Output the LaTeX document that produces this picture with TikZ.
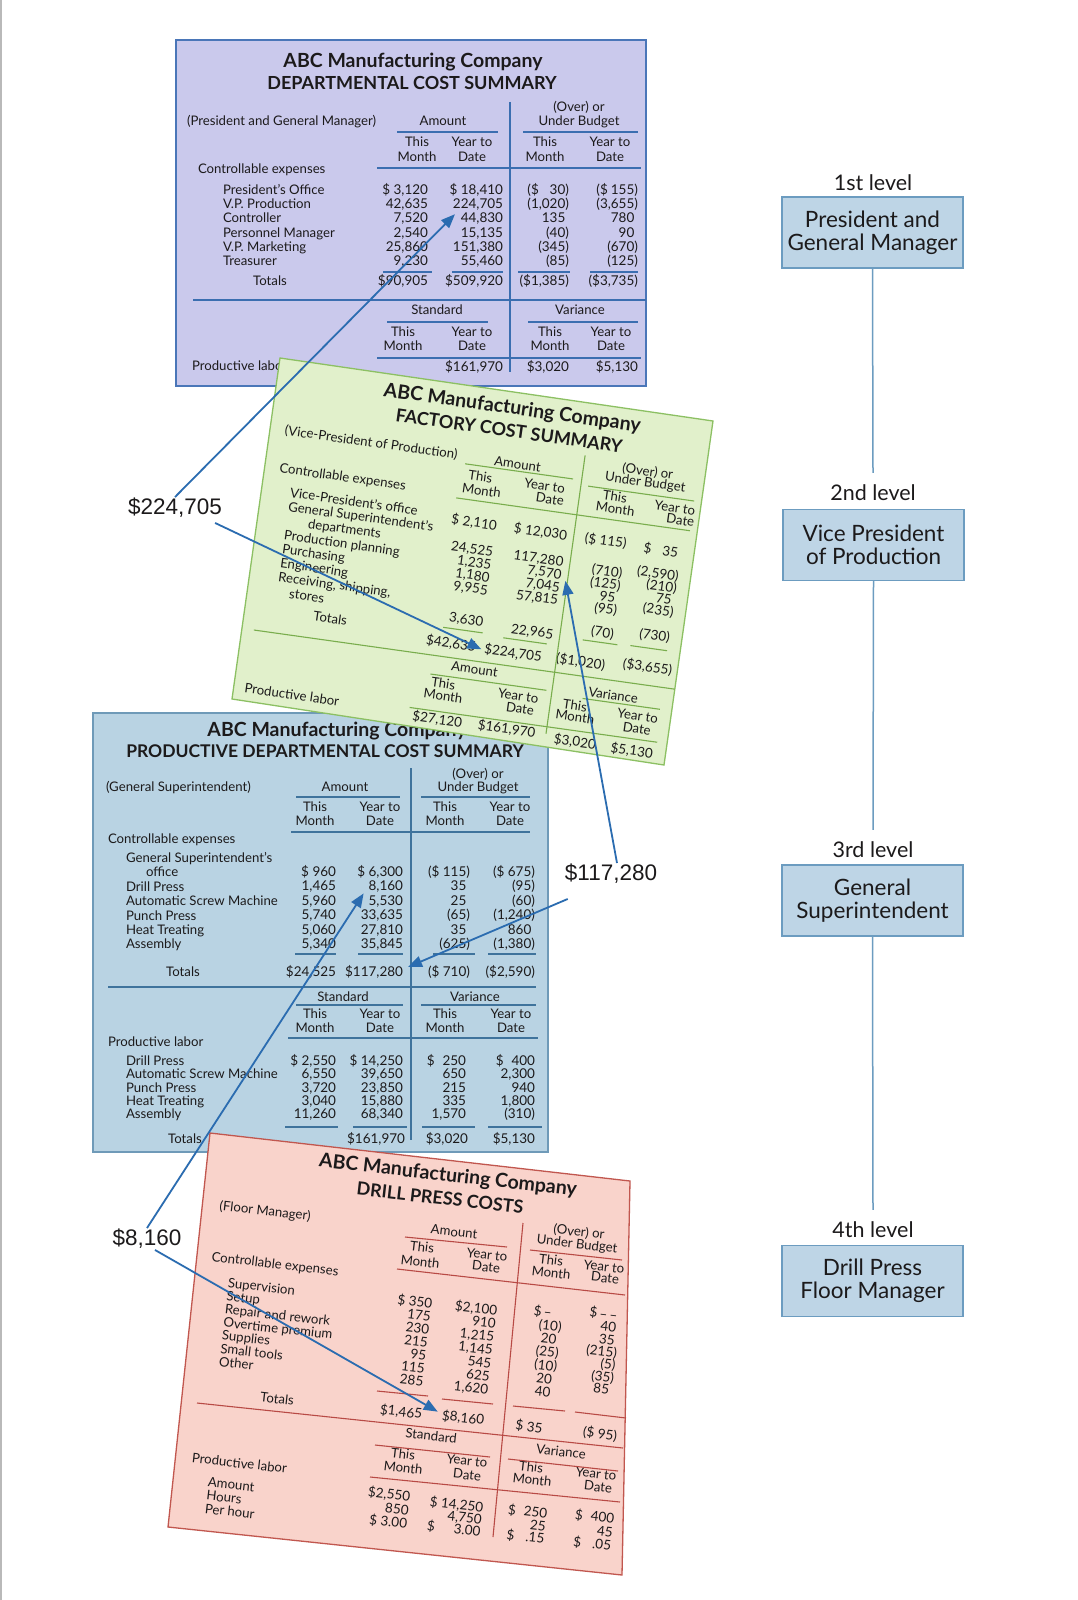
\documentclass[tikz,border=0pt]{standalone}
\usepackage{fontspec}
\setmainfont{Lato}
\newfontfamily\lblfont{Liberation Sans}
\usetikzlibrary{arrows.meta,calc}

\definecolor{ink}{HTML}{1C1A1B}
\definecolor{pfill}{HTML}{CAC9EC}
\definecolor{pedge}{HTML}{4A76B8}
\definecolor{prule}{HTML}{3B6EB0}
\definecolor{gfill}{HTML}{E1F0CB}
\definecolor{gedge}{HTML}{8CC063}
\definecolor{grule}{HTML}{79AD4D}
\definecolor{bfill}{HTML}{B9D3E3}
\definecolor{bedge}{HTML}{6F9AB8}
\definecolor{brule}{HTML}{3F739C}
\definecolor{kfill}{HTML}{F9D3CB}
\definecolor{kedge}{HTML}{C1574F}
\definecolor{krule}{HTML}{B84A45}
\definecolor{arrowc}{HTML}{2B6CB0}
\definecolor{lvfill}{HTML}{BED5E6}
\definecolor{lvedge}{HTML}{6C9CC0}

\newcommand\fs[1]{\fontsize{#1}{#1}\selectfont}
\newcommand\ph[1]{\hphantom{#1}}

\tikzset{
 hd/.style={inner sep=0pt, outer sep=0pt, text=ink, transform shape, font=\fs{13.2}, text height=9.5pt, text depth=2.5pt},
 num/.style={hd, font=\fs{13.5}},
 ttl/.style={inner sep=0pt, text=ink, transform shape, font=\bfseries\fs{19.5}},
 ttlb/.style={inner sep=0pt, text=ink, transform shape, font=\bfseries\fs{18}},
 conn/.style={draw=arrowc, line width=1.8pt, -{Triangle[length=14pt,width=11pt]}},
 lbl/.style={inner sep=1pt, text=ink, font=\lblfont\fs{22.5}},
 lvl/.style={draw=lvedge, fill=lvfill, line width=1.3pt, minimum width=181pt, minimum height=71pt, align=center, inner sep=0pt, text=ink, font=\fontsize{22.5}{23}\selectfont},
 lvtxt/.style={inner sep=0pt, text=ink, font=\fs{21.5}},
 lvline/.style={draw=lvedge, line width=1.5pt},
}

\newcommand\tx[5][]{\node[hd,#1] (#2) at (#3,#4) {#5};}
\newcommand\colv[7][num,anchor=east]{%
  \begin{scope}[shift={(#3,#4)},rotate=#5]
  \foreach \v [count=\i] in {#7}{\node[#1] (#2\i) at (0,{(\i-1)*(#6)}) {\v};}
  \end{scope}}

\begin{document}
\begin{tikzpicture}[x=1pt,y=-1pt]
\useasboundingbox (0,0) rectangle (1077,1600);
\fill[white] (0,0) rectangle (1077,1600);
\draw[gray!55, line width=1.5pt] (1,0) -- (1,1600);

% ================= PURPLE PANEL =================
\path[fill=pfill, draw=pedge, line width=1.5pt] (176,40) rectangle (646,386);
\node[ttl] (pt1) at (413,62) {ABC Manufacturing Company};
\node[ttlb] (pt2) at (412,83) {DEPARTMENTAL COST SUMMARY};
\tx{pov}{579}{108}{(Over) or}
\tx[anchor=west]{ppgm}{187}{122}{(President and General Manager)}
\tx{pam}{443}{122}{Amount}
\tx{pub}{579}{122}{Under Budget}
\tx{pth1}{417}{143}{This}\tx{pmo1}{417}{158}{Month}
\tx{pyt1}{472}{143}{Year to}\tx{pda1}{472}{158}{Date}
\tx{pth2}{545}{143}{This}\tx{pmo2}{545}{158}{Month}
\tx{pyt2}{610}{143}{Year to}\tx{pda2}{610}{158}{Date}
\tx[anchor=west]{pce}{198}{170}{Controllable expenses}
\colv[hd,anchor=west]{pL}{223}{191}{0}{14.2}{{President's Office},{V.P. Production},{Controller},{Personnel Manager},{V.P. Marketing},{Treasurer}}
\colv{pA}{428}{191}{0}{14.2}{{\$ 3,120},{42,635},{7,520},{2,540},{25,860},{9,230}}
\colv{pB}{503}{191}{0}{14.2}{{\$ 18,410},{224,705},{44,830},{15,135},{151,380},{55,460}}
\colv{pC}{569}{191}{0}{14.2}{{(\$\ph{,0}30)},{(1,020)},{135\ph{)}},{(40)},{(345)},{(85)}}
\colv{pD}{638}{191}{0}{14.2}{{(\$\ph{,}155)},{(3,655)},{780\ph{)}},{90\ph{)}},{(670)},{(125)}}
\tx{ptl}{270}{282}{Totals}
\tx[num,anchor=east]{pT1}{428}{282}{\$90,905}
\tx[num,anchor=east]{pT2}{503}{282}{\$509,920}
\tx[num,anchor=east]{pT3}{569}{282}{(\$1,385)}
\tx[num,anchor=east]{pT4}{638}{282}{(\$3,735)}
\tx{pstd}{437}{311}{Standard}
\tx{pvar}{580}{311}{Variance}
\tx{pth3}{403}{333}{This}\tx{pmo3}{403}{347}{Month}
\tx{pyt3}{472}{333}{Year to}\tx{pda3}{472}{347}{Date}
\tx{pth4}{550}{333}{This}\tx{pmo4}{550}{347}{Month}
\tx{pyt4}{611}{333}{Year to}\tx{pda4}{611}{347}{Date}
\tx[anchor=west]{ppl}{192}{367}{Productive labor}
\tx[num,anchor=east]{pP2}{503}{368}{\$161,970}
\tx[num,anchor=east]{pP3}{569}{368}{\$3,020}
\tx[num,anchor=east]{pP4}{638}{368}{\$5,130}
\begin{scope}[draw=prule, line width=1.1pt]
\draw (397,132) -- (498,132); \draw (523,132) -- (638,132);
\draw (377,168) -- (641,168);
\draw (510,102) -- (510,372);
\draw (383,272) -- (432,272); \draw (452,272) -- (503,272);
\draw (518,272) -- (570,272); \draw (590,272) -- (638,272);
\draw (193,300) -- (646,300);
\draw (387,322) -- (488,322); \draw (528,322) -- (638,322);
\draw (377,358) -- (641,358);
\end{scope}

% ================= BLUE PANEL =================
\path[fill=bfill, draw=bedge, line width=1.5pt] (93,713) rectangle (548,1152);
\node[ttl] (bt1) at (337,731) {ABC Manufacturing Company};
\node[ttlb, font=\bfseries\fs{17.5}] (bt2) at (325,751) {PRODUCTIVE DEPARTMENTAL COST SUMMARY};
\tx{bov}{478}{775}{(Over) or}
\tx[anchor=west]{bgs}{106}{788}{(General Superintendent)}
\tx{bam}{345}{788}{Amount}
\tx{bub}{478}{788}{Under Budget}
\tx{bth1}{315}{808}{This}\tx{bmo1}{315}{822}{Month}
\tx{byt1}{380}{808}{Year to}\tx{bda1}{380}{822}{Date}
\tx{bth2}{445}{808}{This}\tx{bmo2}{445}{822}{Month}
\tx{byt2}{510}{808}{Year to}\tx{bda2}{510}{822}{Date}
\tx[anchor=west]{bce}{108}{840}{Controllable expenses}
\tx[anchor=west]{bgso}{126}{859}{General Superintendent's}
\tx[anchor=west]{boff}{146}{873}{office}
\colv[hd,anchor=west]{bL}{126}{888}{0}{14.3}{{Drill Press},{Automatic Screw Machine},{Punch Press},{Heat Treating},{Assembly}}
\colv{bA}{336}{873}{0}{14.4}{{\$ 960},{1,465},{5,960},{5,740},{5,060},{5,340}}
\colv{bB}{403}{873}{0}{14.4}{{\$ 6,300},{8,160},{5,530},{33,635},{27,810},{35,845}}
\colv{bC}{470}{873}{0}{14.4}{{(\$ 115)},{35\ph{)}},{25\ph{)}},{(65)},{35\ph{)}},{(625)}}
\colv{bD}{535}{873}{0}{14.4}{{(\$ 675)},{(95)},{(60)},{(1,240)},{860\ph{)}},{(1,380)}}
\tx{btl}{183}{973}{Totals}
\tx[num,anchor=east]{bT1}{336}{973}{\$24,525}
\tx[num,anchor=east]{bT2}{403}{973}{\$117,280}
\tx[num,anchor=east]{bT3}{470}{973}{(\$ 710)}
\tx[num,anchor=east]{bT4}{535}{973}{(\$2,590)}
\tx{bstd}{343}{998}{Standard}
\tx{bvar}{475}{998}{Variance}
\tx{bth3}{315}{1015}{This}\tx{bmo3}{315}{1029}{Month}
\tx{byt3}{380}{1015}{Year to}\tx{bda3}{380}{1029}{Date}
\tx{bth4}{445}{1015}{This}\tx{bmo4}{445}{1029}{Month}
\tx{byt4}{511}{1015}{Year to}\tx{bda4}{511}{1029}{Date}
\tx[anchor=west]{bpl}{108}{1043}{Productive labor}
\colv[hd,anchor=west]{bM}{126}{1062}{0}{13.3}{{Drill Press},{Automatic Screw Machine},{Punch Press},{Heat Treating},{Assembly}}
\colv{bE}{336}{1062}{0}{13.3}{{\$ 2,550},{6,550},{3,720},{3,040},{11,260}}
\colv{bF}{403}{1062}{0}{13.3}{{\$ 14,250},{39,650},{23,850},{15,880},{68,340}}
\colv{bG}{466}{1062}{0}{13.3}{{\$\ph{0}250},{650},{215},{335},{1,570}}
\colv{bH}{535}{1062}{0}{13.3}{{\$\ph{0}400},{2,300},{940},{1,800},{(310)}}
\tx{btl2}{185}{1140}{Totals}
\tx[num,anchor=east]{bP2}{405}{1140}{\$161,970}
\tx[num,anchor=east]{bP3}{468}{1140}{\$3,020}
\tx[num,anchor=east]{bP4}{535}{1140}{\$5,130}
\begin{scope}[draw=brule, line width=1.1pt]
\draw (296,797) -- (400,797); \draw (421,797) -- (530,797);
\draw (291,832) -- (530,832);
\draw (411,768) -- (411,1140);
\draw (295,954) -- (336,954); \draw (358,954) -- (403,954);
\draw (433,954) -- (475,954); \draw (488,954) -- (536,954);
\draw (108,987) -- (536,987);
\draw (296,1005) -- (403,1005); \draw (421,1005) -- (536,1005);
\draw (288,1038) -- (538,1038);
\draw (285,1127) -- (338,1127); \draw (353,1127) -- (407,1127);
\draw (422,1127) -- (475,1127); \draw (488,1127) -- (542,1127);
\end{scope}

% ================= GREEN PANEL =================
\path[fill=gfill, draw=gedge, line width=1.3pt] (280,358) -- (713,421) -- (664,765) -- (232,699) -- cycle;
\begin{scope}[shift={(280,358)}, rotate=-8]
\node[ttl] (gt1) at (237,18) {ABC Manufacturing Company};
\node[ttlb] (gt2) at (237,40) {FACTORY COST SUMMARY};
\tx[anchor=west]{gvp}{15}{72}{(Vice-President of Production)}
\tx{gam}{250}{73}{Amount}
\tx{gov}{380}{62}{(Over) or}
\tx{gub}{379}{73}{Under Budget}
\tx{gth1}{215}{91}{This}\tx{gmo1}{218}{104.5}{Month}
\tx{gyt1}{280}{91}{Year to}\tx{gda1}{287}{103.5}{Date}
\tx{gth2}{351}{92}{This}\tx{gmo2}{353}{104}{Month}
\tx{gyt2}{412}{94.5}{Year to}\tx{gda2}{419}{106}{Date}
\tx[anchor=west]{gce}{15}{110}{Controllable expenses}
\tx[anchor=west]{gl1}{29}{133}{Vice-President's office}
\tx[anchor=west]{gl2}{29}{147}{General Superintendent's}
\tx[anchor=west]{gl3}{51}{161}{departments}
\tx[anchor=west]{gl4}{29}{176}{Production planning}
\tx[anchor=west]{gl5}{29}{190}{Purchasing}
\tx[anchor=west]{gl6}{29}{204}{Engineering}
\tx[anchor=west]{gl7}{29}{218}{Receiving, shipping,}
\tx[anchor=west]{gl8}{42}{233}{stores}
\tx{gtl}{86}{252}{Totals}
\tx[num,anchor=east]{go1}{238}{137}{\$ 2,110}
\tx[num,anchor=east]{go2}{309}{137}{\$ 12,030}
\tx[num,anchor=east]{go3}{369}{137}{(\$ 115)}
\tx[num,anchor=east]{go4}{425}{139}{\$\ph{0}\ 35\ph{)}}
\colv{gA}{238}{163.5}{0}{13}{{24,525},{1,235},{1,180},{9,955}}
\colv{gB}{309}{163.5}{0}{13}{{117,280},{7,570},{7,045},{57,815}}
\colv{gC}{369}{167}{0}{12.5}{{(710)},{(125)},{95\ph{)}},{(95)}}
\colv{gD}{425}{162}{0}{12}{{(2,590)},{(210)},{75\ph{)}},{(235)}}
\tx[num,anchor=east]{gr1}{238}{234}{3,630}
\tx[num,anchor=east]{gr2}{309}{237}{22,965}
\tx[num,anchor=east]{gr3}{369}{228}{(70)}
\tx[num,anchor=east]{gr4}{425}{224}{(730)}
\tx[num]{gT1}{209}{260}{\$42,635}
\tx[num]{gT2}{272}{261}{\$224,705}
\tx[num]{gT3}{340}{260}{(\$1,020)}
\tx[num]{gT4}{407}{256}{(\$3,655)}
\tx{gam2}{236}{282}{Amount}
\tx{gvar}{377}{289}{Variance}
\tx{gth3}{207}{301}{This}\tx{gmo3}{208.5}{313}{Month}
\tx{gyt3}{283}{302.5}{Year to}\tx{gda3}{286.5}{315}{Date}
\tx{gth4}{340.5}{304.5}{This}\tx{gmo4}{342}{315.5}{Month}
\tx{gyt4}{404}{305.5}{Year to}\tx{gda4}{405}{318.5}{Date}
\tx[anchor=west]{gpl}{11}{333}{Productive labor}
\tx[num]{gP1}{206}{337}{\$27,120}
\tx[num]{gP2}{276}{337}{\$161,970}
\tx[num]{gP3}{345.5}{340}{\$3,020}
\tx[num]{gP4}{403}{341}{\$5,130}
\begin{scope}[draw=grule, line width=1.1pt]
\draw (198,79) -- (307,79); \draw (323,84) -- (430,84);
\draw (194,114) -- (430,114);
\draw (315.7,54) -- (315.7,335);
\draw (199,244) -- (239,244); \draw (260,246) -- (304,246);
\draw (339,237) -- (374,237); \draw (387,236) -- (424,236);
\draw (12,273) -- (437,273);
\draw (193,292) -- (310,292); \draw (347,295) -- (425,295);
\draw (177,328) -- (427,328);
\end{scope}
\end{scope}

% ================= PINK PANEL =================
\path[fill=kfill, draw=kedge, line width=1.3pt] (210,1133) -- (630,1181) -- (622,1575) -- (168,1527) -- cycle;
\node[ttl, rotate=-6.5] (kt1) at (448,1176) {ABC Manufacturing Company};
\node[ttlb, rotate=-6.5] (kt2) at (440,1198) {DRILL PRESS COSTS};
\tx[rotate=-6.5]{kfm}{265}{1212}{(Floor Manager)}
\tx[rotate=-6.5]{kam}{454}{1233}{Amount}
\tx[rotate=-6.5]{kov}{579}{1233}{(Over) or}
\tx[rotate=-6.5]{kub}{577}{1245}{Under Budget}
\tx[rotate=-6.5]{kth1}{422}{1248}{This}\tx[rotate=-6.5]{kmo1}{420}{1263}{Month}
\tx[rotate=-6.5]{kyt1}{487}{1256}{Year to}\tx[rotate=-6.5]{kda1}{486}{1268}{Date}
\tx[rotate=-6.5]{kth2}{551}{1261}{This}\tx[rotate=-6.5]{kmo2}{551}{1274}{Month}
\tx[rotate=-6.5]{kyt2}{604}{1268}{Year to}\tx[rotate=-6.5]{kda2}{605}{1279}{Date}
\tx[rotate=-6.5]{kce}{275}{1265}{Controllable expenses}
\colv[hd,anchor=west]{kL}{228}{1284}{-6.5}{13.2}{{Supervision},{Setup},{Repair and rework},{Overtime premium},{Supplies},{Small tools},{Other}}
\colv{kA}{432}{1305}{-6.5}{13}{{\$ 350},{175},{230},{215},{95},{115},{285}}
\colv{kB}{497}{1312}{-6.5}{13.2}{{\$2,100},{910},{1,215},{1,145},{545},{625},{1,620}}
\colv{kC}{563}{1315}{-6.5}{13.3}{{\$\,--\ph{0)}},{(10)},{20\ph{)}},{(25)},{(10)},{20\ph{)}},{40\ph{)}}}
\colv{kD}{621}{1317}{-6.5}{12.5}{{\$\,--\,--\ph{)}},{40\ph{)}},{35\ph{)}},{(215)},{(5)},{(35)},{85\ph{)}}}
\tx[rotate=-6.5]{ktl}{277}{1400}{Totals}
\tx[num,rotate=-6.5]{kT1}{401}{1413}{\$1,465}
\tx[num,rotate=-6.5]{kT2}{463}{1419}{\$8,160}
\tx[num,rotate=-6.5]{kT3}{529}{1428}{\$ 35}
\tx[num,rotate=-6.5]{kT4}{600}{1435}{(\$ 95)}
\tx[rotate=-6.5]{kstd}{431}{1437}{Standard}
\tx[rotate=-6.5]{kvar}{561}{1453}{Variance}
\tx[rotate=-6.5]{kth3}{403}{1455}{This}\tx[rotate=-6.5]{kmo3}{403}{1469}{Month}
\tx[rotate=-6.5]{kyt3}{467}{1462}{Year to}\tx[rotate=-6.5]{kda3}{467}{1476}{Date}
\tx[rotate=-6.5]{kth4}{531}{1468}{This}\tx[rotate=-6.5]{kmo4}{532}{1481}{Month}
\tx[rotate=-6.5]{kyt4}{596}{1475}{Year to}\tx[rotate=-6.5]{kda4}{598}{1488}{Date}
\tx[anchor=west,rotate=-6.5]{kpl}{192}{1459}{Productive labor}
\colv[hd,anchor=west]{kM}{208}{1483}{-6.5}{13.5}{{Amount},{Hours},{Per hour}}
\colv{kE}{410}{1498}{-6.5}{13.5}{{\$2,550},{850},{\$ 3.00}}
\colv{kF}{483}{1509}{-6.5}{12}{{\$ 14,250},{4,750},{\$\ph{\ 14}3.00}}
\colv{kG}{547}{1515}{-6.5}{12.5}{{\$\ph{0}250},{25},{\$\ph{\ 2}.15}}
\colv{kH}{614}{1520}{-6.5}{13.5}{{\$\ph{0}400},{45},{\$\ph{\ 4}.05}}
\begin{scope}[draw=krule, line width=1.1pt]
\draw (405,1237) -- (507,1247); \draw (530,1250) -- (622,1260);
\draw (397,1269) -- (625,1295);
\draw (523,1223) -- (493,1537);
\draw (377,1391) -- (428,1396); \draw (442,1399) -- (493,1404);
\draw (513,1406) -- (565,1411); \draw (575,1412) -- (626,1418);
\draw (197,1403) -- (623,1448);
\draw (375,1445) -- (490,1457); \draw (508,1459) -- (618,1471);
\draw (370,1477) -- (620,1502);
\end{scope}

% ================= RIGHT COLUMN =================
\node[lvtxt] (lv1) at (873,183) {1st level};
\node[lvl] (bx1) at (872.5,232.5) {President and\\General Manager};
\node[lvtxt] (lv2) at (873,493) {2nd level};
\node[lvl] (bx2) at (873.5,545) {Vice President\\of Production};
\node[lvtxt] (lv3) at (873,850) {3rd level};
\node[lvl] (bx3) at (872.5,900.5) {General\\Superintendent};
\node[lvtxt] (lv4) at (873,1230) {4th level};
\node[lvl] (bx4) at (872.5,1281) {Drill Press\\Floor Manager};
\draw[lvline] (bx1.south) -- ($(lv2.north)+(0,-12)$);
\draw[lvline] (bx2.south) -- ($(lv3.north)+(0,-12)$);
\draw[lvline] (bx3.south) -- ($(lv4.north)+(0,-12)$);

% ================= LABELS AND ARROWS =================
\node[lbl] (l224) at (175,508) {\$224,705};
\node[lbl] (l117) at (611,874) {\$117,280};
\node[lbl] (l816) at (147,1239) {\$8,160};
\draw[conn] (l224.north) -- ($(pB2.south west)+(2,3)$);
\draw[conn] ($(l224.south east)+(-8,4)$) -- ($(gT2.west)+(-3,-1)$);
\draw[conn] ($(l117.north)+(6,0)$) -- ($(gB1.south east)+(3,12)$);
\draw[conn] ($(l117.south west)+(4,14)$) -- ($(bT2.north east)+(5,0)$);
\draw[conn] (l816.north) -- ($(bB2.south west)+(-5,0)$);
\draw[conn] ($(l816.south)+(8,0)$) -- ($(kT2.north west)+(-5,1)$);
\end{tikzpicture}
\end{document}
